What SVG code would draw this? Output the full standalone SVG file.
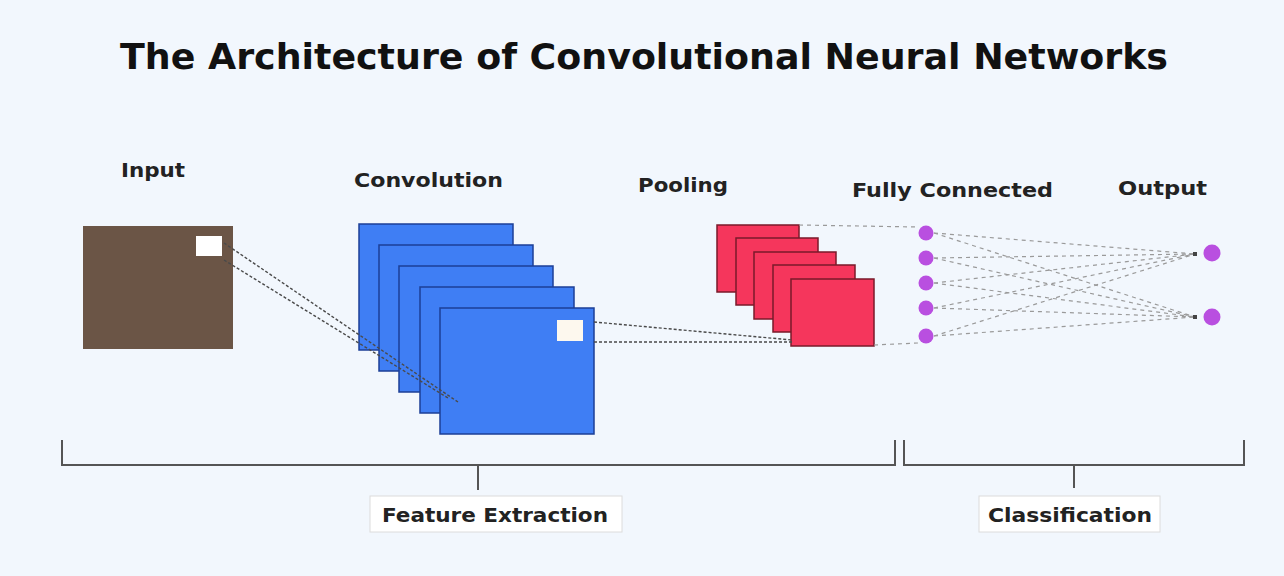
<svg xmlns="http://www.w3.org/2000/svg" width="1284" height="576" viewBox="0 0 1284 576">
  <defs>
    <style>
      .title { font-family: "DejaVu Sans Condensed", "DejaVu Sans", sans-serif; font-size: 36px; font-weight: bold; fill: #111; }
      .label { font-family: "DejaVu Sans", sans-serif; font-size: 19px; font-weight: bold; fill: #222; }
      .tag { font-family: "DejaVu Sans", sans-serif; font-size: 20px; font-weight: bold; fill: #222; }
      .tagbox { fill: #ffffff; stroke: #dcdcdc; stroke-width: 1; }
      .conv { fill: #3f7ef4; stroke: #1c3f96; stroke-width: 1.5; }
      .pool { fill: #f5365c; stroke: #7a1a2a; stroke-width: 1.5; }
      .neuron { fill: #b94fe0; }
      .link-dark { stroke: #4a4a4a; stroke-width: 1.4; stroke-dasharray: 3 2; fill: none; }
      .link-light { stroke: #9a9a9a; stroke-width: 1.2; stroke-dasharray: 4 4; fill: none; }
      .bracket { stroke: #555; stroke-width: 2; fill: none; }
    </style>
    <marker id="tip" viewBox="0 0 4 4" refX="2" refY="2" markerWidth="4" markerHeight="4" markerUnits="userSpaceOnUse">
      <rect x="0" y="0" width="4" height="4" fill="#444"/>
    </marker>
  </defs>

  <rect width="1284" height="576" fill="#f2f7fd"/>

  <text class="title" x="120" y="69" textLength="1048" lengthAdjust="spacingAndGlyphs">The Architecture of Convolutional Neural Networks</text>

  <!-- layer captions -->
  <text class="label" x="121" y="177" textLength="64" lengthAdjust="spacingAndGlyphs">Input</text>
  <text class="label" x="354" y="187" textLength="149" lengthAdjust="spacingAndGlyphs">Convolution</text>
  <text class="label" x="638" y="192" textLength="90" lengthAdjust="spacingAndGlyphs">Pooling</text>
  <text class="label" x="852" y="197" textLength="201" lengthAdjust="spacingAndGlyphs">Fully Connected</text>
  <text class="label" x="1118" y="195" textLength="89" lengthAdjust="spacingAndGlyphs">Output</text>

  <!-- input image -->
  <g id="input">
    <rect x="83" y="226" width="150" height="123" fill="#6b5546"/>
    <rect x="196" y="236" width="26" height="20" fill="#ffffff"/>
  </g>

  <!-- convolution feature maps -->
  <g id="convolution">
    <rect class="conv" x="359" y="224" width="154" height="126"/>
    <rect class="conv" x="379" y="245" width="154" height="126"/>
    <rect class="conv" x="399" y="266" width="154" height="126"/>
    <rect class="conv" x="420" y="287" width="154" height="126"/>
    <rect class="conv" x="440" y="308" width="154" height="126"/>
    <rect x="557" y="320" width="26" height="21" fill="#fdf8ee"/>
  </g>

  <!-- pooled maps -->
  <g id="pooling">
    <rect class="pool" x="717" y="225" width="82" height="67"/>
    <rect class="pool" x="736" y="238" width="82" height="67"/>
    <rect class="pool" x="754" y="252" width="82" height="67"/>
    <rect class="pool" x="773" y="265" width="82" height="67"/>
    <rect class="pool" x="791" y="279" width="83" height="67"/>
  </g>

  <!-- connectors -->
  <g id="connectors">
    <path class="link-dark" d="M224 243 L458 402"/>
    <path class="link-dark" d="M224 260 L448 398"/>
    <path class="link-dark" d="M594 322 L792 340"/>
    <path class="link-dark" d="M594 342 L792 342"/>
    <path class="link-light" d="M799 225 L918 227"/>
    <path class="link-light" d="M874 345 L918 343"/>
    <g marker-end="url(#tip)">
      <path class="link-light" d="M934 233 L1195 254"/>
      <path class="link-light" d="M934 258 L1195 254"/>
      <path class="link-light" d="M934 283 L1195 254"/>
      <path class="link-light" d="M934 308 L1195 254"/>
      <path class="link-light" d="M934 336 L1195 254"/>
      <path class="link-light" d="M934 233 L1195 317"/>
      <path class="link-light" d="M934 258 L1195 317"/>
      <path class="link-light" d="M934 283 L1195 317"/>
      <path class="link-light" d="M934 308 L1195 317"/>
      <path class="link-light" d="M934 336 L1195 317"/>
    </g>
  </g>

  <!-- fully connected layer -->
  <g id="fully-connected">
    <circle class="neuron" cx="926" cy="233" r="7.5"/>
    <circle class="neuron" cx="926" cy="258" r="7.5"/>
    <circle class="neuron" cx="926" cy="283" r="7.5"/>
    <circle class="neuron" cx="926" cy="308" r="7.5"/>
    <circle class="neuron" cx="926" cy="336" r="7.5"/>
  </g>

  <!-- output layer -->
  <g id="output">
    <circle class="neuron" cx="1212" cy="253" r="8.5"/>
    <circle class="neuron" cx="1212" cy="317" r="8.5"/>
  </g>

  <!-- stage brackets -->
  <g id="feature-extraction">
    <path class="bracket" d="M62 440 V465 H895 V440 M478 465 V490"/>
    <rect class="tagbox" x="370" y="496" width="252" height="36"/>
    <text class="tag" x="382" y="522" textLength="226" lengthAdjust="spacingAndGlyphs">Feature Extraction</text>
  </g>
  <g id="classification">
    <path class="bracket" d="M904 440 V465 H1244 V440 M1074 465 V488"/>
    <rect class="tagbox" x="979" y="496" width="181" height="36"/>
    <text class="tag" x="988" y="522" textLength="164" lengthAdjust="spacingAndGlyphs">Classification</text>
  </g>
</svg>
